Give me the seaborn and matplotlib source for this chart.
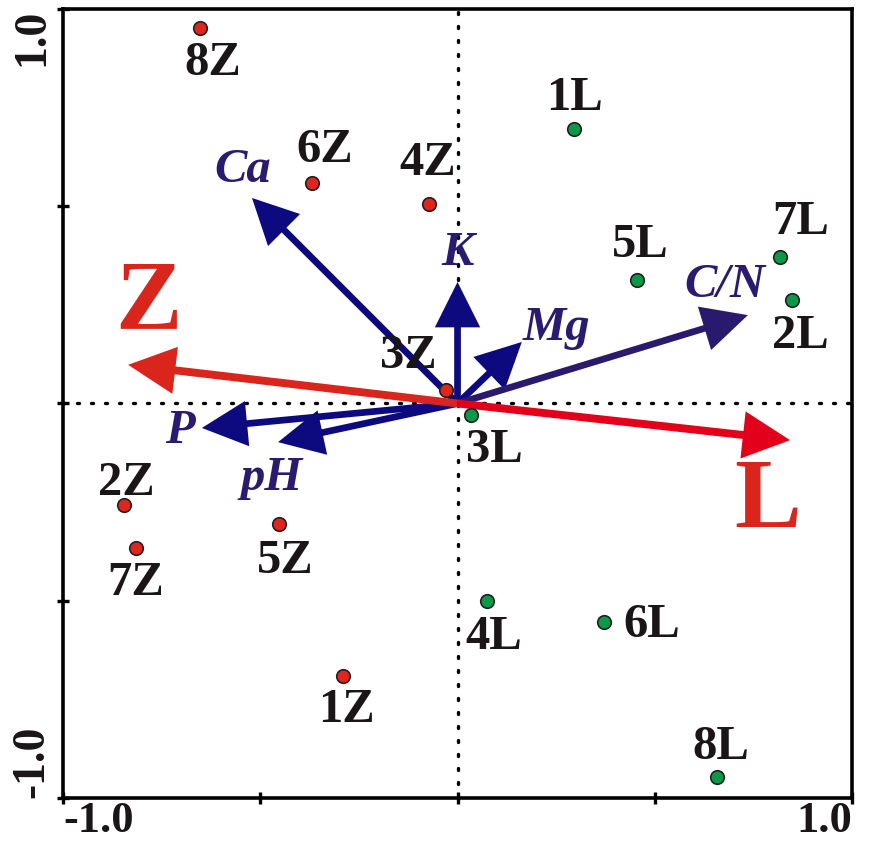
import matplotlib
matplotlib.use("Agg")
import matplotlib.pyplot as plt
import seaborn as sns
import pandas as pd

# Sample scores (Z = one site group, L = the other)
z_sites = ["8Z", "6Z", "4Z", "3Z", "2Z", "7Z", "5Z", "1Z"]
z_x = [-0.653, -0.369, -0.072, -0.029, -0.845, -0.815, -0.452, -0.290]
z_y = [0.952, 0.559, 0.506, 0.034, -0.257, -0.367, -0.305, -0.691]

l_sites = ["1L", "5L", "7L", "2L", "3L", "4L", "6L", "8L"]
l_x = [0.295, 0.455, 0.817, 0.848, 0.034, 0.075, 0.371, 0.657]
l_y = [0.696, 0.313, 0.371, 0.263, -0.029, -0.500, -0.554, -0.947]

# Soil variable loadings
var_names = ["Ca", "K", "Mg", "C/N", "P", "pH"]
var_x = [-0.521, 0.000, 0.163, 0.736, -0.648, -0.455]
var_y = [0.521, 0.308, 0.156, 0.224, -0.062, -0.098]

# Group centroid vectors
grp_names = ["Z", "L"]
grp_x = [-0.835, 0.843]
grp_y = [0.098, -0.093]

tick_vals = [-1.0, -0.5, 0.0, 0.5, 1.0]
tick_text = ["-1.0", "", "", "", "1.0"]

# label offsets in pixels (dx, dy, y up)
z_off = [(13, -35), (13, 33), (-1, 41), (-38, 34), (2, 22), (0, -35), (6, -37), (3, -34)]
l_off = [(1, 31), (3, 35), (21, 35), (8, -36), (23, -35), (7, -36), (48, -3), (4, 30)]
var_off = [(-9, 28), (0, 29), (35, 14), (-23, 30), (-22, -3), (-6, -36)]
grp_off = [(20, 61), (-22, -63)]

DPI = 100
px = 72.0 / DPI

sns.set_theme(style="white")
plt.rcParams["font.family"] = ["Liberation Serif", "DejaVu Serif"]

fig = plt.figure(figsize=(8.69, 8.42), dpi=DPI)
ax = fig.add_axes([0.0725, 0.0523, 0.908, 0.9370])
ax.set_xlim(-1, 1)
ax.set_ylim(-1, 1)

ink = "#1a1617"
navy = "#0c0a7e"
cn_col = "#2a1a6e"
lab_col = "#2b1b70"

# dotted reference lines
ax.axhline(0, color="black", lw=2.4, ls=(0, (0.6, 3.6)), dash_capstyle="round", zorder=1)
ax.axvline(0, color="black", lw=2.4, ls=(0, (0.6, 3.6)), dash_capstyle="round", zorder=1)

# variable arrows
for i, name in enumerate(var_names):
    col = cn_col if name == "C/N" else navy
    ax.arrow(0, 0, var_x[i], var_y[i], width=0.017, head_width=0.115, head_length=0.115,
             length_includes_head=True, fc=col, ec=col, lw=0, zorder=3)
    dx, dy = var_off[i]
    ax.annotate(name, (var_x[i], var_y[i]), xytext=(dx * px, dy * px), textcoords="offset points",
                ha="center", va="center", fontsize=35, fontstyle="italic", fontweight="bold",
                color=lab_col, zorder=6)

# group arrows
grp_cols = ["#da251d", "#e2001a"]
for i, name in enumerate(grp_names):
    ax.arrow(0, 0, grp_x[i], grp_y[i], width=0.02, head_width=0.12, head_length=0.12,
             length_includes_head=True, fc=grp_cols[i], ec=grp_cols[i], lw=0, zorder=4)
    dx, dy = grp_off[i]
    ax.annotate(name, (grp_x[i], grp_y[i]), xytext=(dx * px, dy * px), textcoords="offset points",
                ha="center", va="center", fontsize=72, fontweight="bold", color="#da251d", zorder=6)

# sample points
zdf = pd.DataFrame({"x": z_x, "y": z_y, "site": z_sites})
ldf = pd.DataFrame({"x": l_x, "y": l_y, "site": l_sites})
sns.scatterplot(data=zdf, x="x", y="y", ax=ax, color="#e0261c", edgecolor="#231f20",
                linewidth=1.2, s=95, zorder=5)
sns.scatterplot(data=ldf, x="x", y="y", ax=ax, color="#0a9a47", edgecolor="#231f20",
                linewidth=1.2, s=95, zorder=5)

for df, offs in ((zdf, z_off), (ldf, l_off)):
    for (xv, yv, s), (dx, dy) in zip(df[["x", "y", "site"]].itertuples(index=False), offs):
        ax.annotate(s, (xv, yv), xytext=(dx * px, dy * px), textcoords="offset points",
                    ha="center", va="center", fontsize=35, fontweight="bold", color=ink, zorder=6)

ax.set_xlabel("")
ax.set_ylabel("")
ax.set_xticks(tick_vals)
ax.set_yticks(tick_vals)
ax.set_xticklabels(tick_text, fontsize=32, fontweight="bold", color=ink)
ax.set_yticklabels(tick_text, fontsize=33, fontweight="bold", color=ink, rotation=90)
xl = ax.get_xticklabels()
xl[0].set_ha("left")
xl[-1].set_ha("right")
yl = ax.get_yticklabels()
yl[0].set_va("bottom")
yl[-1].set_va("top")
ax.tick_params(axis="both", bottom=True, left=True, direction="inout", length=8, width=2.4,
               color="black")
ax.tick_params(axis="x", pad=-1.5)
ax.tick_params(axis="y", pad=3)

for sp in ax.spines.values():
    sp.set_color("black")
    sp.set_linewidth(2.6)
    sp.set_visible(True)

fig.savefig("out.png", dpi=DPI)
